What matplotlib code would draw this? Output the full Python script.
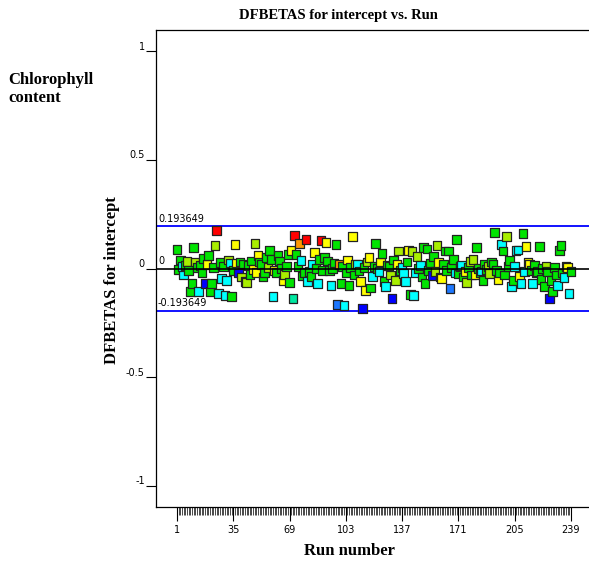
import matplotlib
matplotlib.use("Agg")
import matplotlib.pyplot as plt
from matplotlib.transforms import ScaledTranslation

# DFBETAS for intercept, one value per run (1..239)
dfbetas = [
    0.088, -0.005, 0.040, 0.010, -0.030, 0.015, 0.032, -0.010, -0.106, -0.070,
    0.097, 0.030, 0.005, -0.106, 0.014, -0.020, 0.046, -0.070, 0.018, 0.060,
    -0.106, -0.070, 0.005, 0.106, 0.175, -0.115, 0.028, -0.046, 0.010, -0.125,
    -0.055, 0.040, 0.025, -0.129, -0.010, 0.110, 0.025, -0.020, 0.030, -0.040,
    0.020, -0.060, -0.064, 0.015, -0.028, 0.035, -0.005, 0.115, -0.018, 0.060,
    0.030, 0.018, -0.040, -0.018, 0.050, 0.005, 0.083, 0.041, -0.130, -0.010,
    -0.018, 0.060, 0.035, 0.000, -0.055, -0.028, 0.010, 0.065, -0.065, 0.083,
    -0.138, 0.152, 0.065, 0.010, 0.115, 0.037, -0.035, -0.018, 0.134, -0.060,
    -0.014, -0.037, 0.020, 0.074, 0.000, -0.070, 0.041, 0.130, -0.010, 0.050,
    0.120, 0.035, -0.010, -0.078, 0.000, 0.025, 0.110, -0.166, 0.018, -0.070,
    0.010, -0.170, -0.020, 0.040, -0.078, 0.005, 0.147, -0.030, 0.020, 0.020,
    -0.012, -0.060, -0.184, 0.005, -0.100, 0.030, 0.050, -0.090, -0.037, 0.010,
    0.115, 0.000, -0.014, 0.030, 0.070, -0.060, -0.083, 0.015, 0.012, -0.030,
    -0.138, 0.040, -0.055, 0.020, 0.080, -0.010, 0.005, -0.023, -0.060, 0.030,
    0.083, -0.120, 0.078, -0.124, -0.020, 0.055, 0.000, 0.015, -0.040, 0.097,
    -0.069, 0.090, -0.010, 0.025, -0.032, 0.055, -0.015, 0.106, 0.028, -0.040,
    -0.046, 0.020, 0.080, -0.010, 0.080, -0.092, 0.005, 0.041, -0.020, 0.134,
    -0.025, 0.010, 0.015, -0.040, -0.015, -0.065, 0.005, 0.032, -0.030, 0.041,
    -0.030, 0.097, 0.000, -0.018, -0.012, -0.055, 0.020, -0.005, 0.010, -0.023,
    0.030, 0.020, 0.166, -0.010, -0.050, -0.020, 0.110, 0.080, -0.030, 0.147,
    0.010, 0.037, -0.083, -0.055, 0.010, 0.083, 0.085, -0.037, -0.069, 0.161,
    -0.014, 0.100, 0.030, 0.020, -0.010, -0.069, 0.015, -0.020, -0.014, 0.100,
    -0.050, 0.000, -0.083, 0.010, -0.014, -0.138, -0.055, -0.106, 0.005, -0.030,
    -0.078, 0.083, 0.106, -0.020, -0.041, 0.010, 0.005, -0.115, -0.014,
]

# colour level of each point (response value): 0 blue ... 8 red
levels = [
    4, 4, 4, 2, 2, 4, 5, 4, 4, 4,
    4, 5, 4, 2, 4, 4, 4, 0, 6, 4,
    4, 4, 4, 5, 8, 2, 4, 2, 4, 2,
    2, 5, 2, 4, 4, 6, 6, 0, 4, 5,
    4, 5, 5, 4, 4, 4, 6, 5, 6, 6,
    4, 4, 4, 4, 4, 5, 4, 4, 2, 6,
    4, 4, 4, 4, 6, 5, 4, 4, 4, 6,
    3, 8, 4, 4, 7, 2, 4, 4, 8, 2,
    4, 4, 2, 6, 4, 2, 4, 8, 4, 4,
    6, 4, 4, 2, 4, 4, 4, 1, 7, 4,
    4, 2, 4, 6, 4, 4, 6, 4, 5, 2,
    4, 6, 0, 4, 6, 5, 6, 4, 2, 4,
    4, 4, 2, 6, 4, 4, 2, 4, 4, 5,
    0, 4, 5, 6, 5, 4, 2, 2, 2, 4,
    6, 4, 5, 2, 2, 5, 4, 2, 4, 4,
    4, 4, 4, 4, 0, 4, 5, 5, 6, 6,
    6, 4, 4, 4, 4, 1, 4, 4, 2, 4,
    4, 4, 2, 4, 6, 5, 4, 5, 4, 5,
    6, 4, 4, 4, 2, 4, 4, 4, 5, 5,
    4, 4, 4, 4, 6, 4, 2, 4, 4, 5,
    4, 4, 2, 4, 2, 2, 2, 6, 2, 4,
    2, 6, 6, 6, 4, 2, 4, 4, 4, 4,
    4, 4, 4, 5, 4, 0, 4, 4, 4, 4,
    2, 4, 4, 4, 2, 2, 6, 2, 4,
]

runs = list(range(1, len(dfbetas) + 1))
limit = 0.193649
xtick_runs = [1, 35, 69, 103, 137, 171, 205, 239]
ytick_vals = [-1, -0.5, 0, 0.5, 1]
ytick_text = ["-1", "-0.5", "0", "0.5", "1"]

palette = ['#0000ff', '#1e78ff', '#00ffff', '#00e8a0', '#00e400',
           '#a8ee00', '#ffff00', '#ff9900', '#ff0000']
point_colors = [palette[k] for k in levels]

serif = ['Liberation Serif', 'DejaVu Serif']

fig = plt.figure(figsize=(5.89, 5.62), dpi=100)
ax = fig.add_axes([156 / 589, 55 / 562, 436 / 589, 477 / 562])

ax.scatter(runs, dfbetas, s=38, marker='s', c=point_colors,
           edgecolors='#222222', linewidths=0.9, zorder=3)

ax.axhline(0, color='black', lw=1.2, zorder=4)
ax.axhline(limit, color='#0000ff', lw=1.3, zorder=2)
ax.axhline(-limit, color='#0000ff', lw=1.3, zorder=2)

ax.text(-10.5, limit + 0.012, "0.193649", fontsize=7, va='bottom', ha='left')
ax.text(-10.5, 0.012, "0", fontsize=7, va='bottom', ha='left')
ax.text(-10.5, -limit + 0.012, "-0.193649", fontsize=7, va='bottom', ha='left')

ax.set_xlim(-11.7, 251.8)
ax.set_ylim(-1.097, 1.097)

ax.set_xticks(xtick_runs)
ax.set_xticklabels([str(r) for r in xtick_runs], fontsize=7)
ax.set_xticks(runs, minor=True)
ax.tick_params(axis='x', which='major', length=10, width=0.8, pad=3)
ax.tick_params(axis='x', which='minor', length=6, width=0.5)

ax.set_yticks(ytick_vals)
ax.set_yticklabels(ytick_text, fontsize=7)
ax.tick_params(axis='y', length=7, width=0.8, pad=1)
for lab in ax.get_yticklabels():
    lab.set_transform(lab.get_transform() + ScaledTranslation(0, 4 / 72, fig.dpi_scale_trans))

for sp in ax.spines.values():
    sp.set_linewidth(0.9)

fig.text(338 / 589, 1 - 16 / 562, "DFBETAS for intercept vs. Run", fontsize=10.5,
         fontweight='bold', family=serif, ha='center', va='center')
ax.set_xlabel("Run number", fontsize=12, fontweight='bold', family=serif)
ax.xaxis.set_label_coords((349 - 156) / 436, (507 - 543) / 477)
ax.set_ylabel("DFBETAS for intercept", fontsize=12, fontweight='bold', family=serif)
ax.yaxis.set_label_coords((120 - 156) / 436, (507 - 280) / 477)

fig.text(8 / 589, 1 - 72 / 562, "Chlorophyll\ncontent", fontsize=12, fontweight='bold',
         family=serif, va='top', ha='left', linespacing=1.2)

fig.savefig("out.png", dpi=100)
